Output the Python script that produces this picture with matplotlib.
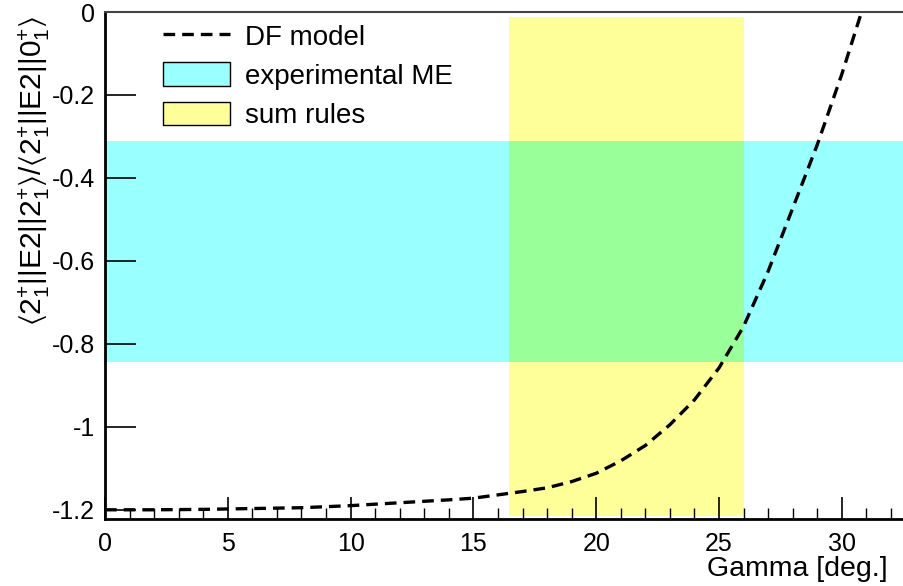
import numpy as np
import matplotlib
matplotlib.use("Agg")
import matplotlib.pyplot as plt
from matplotlib.patches import Patch
from matplotlib.lines import Line2D

plt.rcParams['font.family'] = ['Liberation Sans', 'DejaVu Sans']
plt.rcParams['mathtext.fontset'] = 'custom'
plt.rcParams['mathtext.rm'] = 'Liberation Sans'
plt.rcParams['mathtext.it'] = 'Liberation Sans'
plt.rcParams['mathtext.default'] = 'regular'
plt.rcParams['axes.unicode_minus'] = False

# DF model curve
gamma = [0, 2, 4, 6, 8, 10, 12, 14, 15, 16, 17, 18, 19, 20, 21, 22, 23, 24,
         25, 26, 27, 28, 29, 30, 30.75]
ratio = [-1.200, -1.200, -1.199, -1.197, -1.195, -1.190, -1.183, -1.176,
         -1.172, -1.164, -1.156, -1.147, -1.132, -1.112, -1.082, -1.045,
         -0.995, -0.935, -0.858, -0.758, -0.625, -0.473, -0.320, -0.150, -0.01]

# bands
exp_me = (-0.843, -0.311)        # experimental ME range (y)
sum_rules_x = (16.46, 26.0)      # sum rules gamma range
sum_rules_y = (-1.214, -0.012)

CYAN = '#99ffff'
YELLOW = '#ffff99'
GREEN = '#99ff99'

AX_W = 1 - 105 / 904 + 0.01
fig = plt.figure(figsize=(9.04, 5.86), dpi=100)
ax = fig.add_axes([105 / 904, 1 - 518.5 / 586, AX_W, (518.5 - 12) / 586])

ax.axhspan(exp_me[0], exp_me[1], color=CYAN, lw=0, zorder=1)
ax.fill_between(sum_rules_x, sum_rules_y[0], sum_rules_y[1], color=YELLOW, lw=0, zorder=1)
ax.fill_between(sum_rules_x, max(exp_me[0], sum_rules_y[0]), min(exp_me[1], sum_rules_y[1]),
                color=GREEN, lw=0, zorder=1.5)
ax.plot(gamma, ratio, color='black', lw=2.4, ls=(0, (3.5, 2.1)), zorder=3)

ax.set_xlim(0, 32.9)
ax.set_ylim(-1.221, 0)
ax.set_xticks(range(0, 35, 5))
ax.set_xticks(range(0, 33), minor=True)
ax.set_yticks([0, -0.2, -0.4, -0.6, -0.8, -1.0, -1.2])
ax.set_yticklabels(['0', '-0.2', '-0.4', '-0.6', '-0.8', '-1', '-1.2'])
ax.set_xticklabels([str(v) for v in range(0, 35, 5)])
ax.tick_params(axis='x', which='major', direction='in', length=16, width=1.2,
               labelsize=18, pad=10, top=False)
ax.tick_params(axis='x', which='minor', direction='in', length=8, width=1.0, top=False)
ax.tick_params(axis='y', which='major', direction='in', length=22, width=1.2,
               labelsize=18, pad=7, right=False)
for s in ['left', 'bottom']:
    ax.spines[s].set_linewidth(2)
ax.spines['top'].set_color('#444444')
ax.spines['top'].set_linewidth(1.5)
ax.spines['right'].set_visible(False)
for s in ax.spines.values():
    s.set_zorder(4)

ax.set_xlabel('Gamma [deg.]', fontsize=20.5)
ax.xaxis.set_label_coords((888 - 105) / (904 * AX_W), -0.074)
ax.xaxis.label.set_horizontalalignment('right')
ax.set_ylabel(r'$\langle 2^{+}_{1}||E2||2^{+}_{1}\rangle/\langle 2^{+}_{1}||E2||0^{+}_{1}\rangle$',
              fontsize=21.5)
ax.yaxis.label.set_horizontalalignment('right')
ax.yaxis.set_label_coords(-0.066, 1.0 - 3 / 506.5)

handles = [Line2D([], [], color='black', lw=2.4, ls=(0, (3.5, 2.1))),
           Patch(facecolor=CYAN, edgecolor='black', lw=1),
           Patch(facecolor=YELLOW, edgecolor='black', lw=1)]
labels = ['DF model', 'experimental ME', 'sum rules']
ax.legend(handles, labels, loc='upper left', bbox_to_anchor=(0.058, 1.0), frameon=False,
          fontsize=20, handlelength=2.4, handleheight=0.95, handletextpad=0.55,
          labelspacing=0.42, borderaxespad=0)

fig.savefig('out.png', dpi=100)
